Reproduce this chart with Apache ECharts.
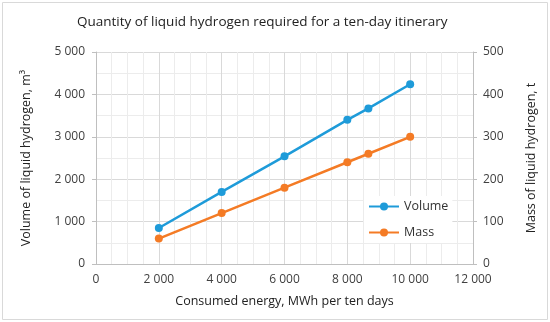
<!DOCTYPE html>
<html><head><meta charset="utf-8">
<script src="https://cdn.jsdelivr.net/npm/echarts@6/dist/echarts.min.js"></script>
<style>html,body{margin:0;padding:0;background:#fff}#c{width:550px;height:322px}</style>
</head><body><div id="c"></div>
<script>
const energy = [2000, 4000, 6000, 8000, 8670, 10000];
const volume = [850, 1700, 2540, 3400, 3670, 4240];
const mass = [60, 120, 180, 240, 260, 300];
const seriesNames = ['Volume', 'Mass'];
const FONT = 'Open Sans';
const fmt = v => String(v).replace(/\B(?=(\d{3})+(?!\d))/g, ' ');
const chart = echarts.init(document.getElementById('c'));
chart.setOption({
  animation: false,
  textStyle: {fontFamily: FONT},
  graphic: [{type: 'rect', shape: {x: 2.5, y: 2.5, width: 545, height: 317}, style: {fill: 'none', stroke: '#d9d9d9', lineWidth: 1}}],
  title: {text: 'Quantity of liquid hydrogen required for a ten-day itinerary', left: 77, top: 15, padding: 0,
    textStyle: {fontFamily: FONT, fontSize: 13.5, fontWeight: 'normal', color: '#222'}},
  grid: {left: 96, right: 77, top: 52, bottom: 58},
  legend: {orient: 'vertical', left: 364, top: 196, itemGap: 13, itemWidth: 30, itemHeight: 10,
    backgroundColor: '#fff', padding: [4, 4, 4, 4],
    textStyle: {fontFamily: FONT, fontSize: 12.5, color: '#333'}, data: seriesNames},
  xAxis: {type: 'value', min: 0, max: 12000, interval: 2000,
    name: 'Consumed energy, MWh per ten days', nameLocation: 'middle', nameGap: 31,
    nameTextStyle: {fontFamily: FONT, fontSize: 12.5, color: '#222'},
    axisLabel: {formatter: fmt, fontFamily: FONT, fontSize: 12, color: '#404040', margin: 10},
    axisLine: {lineStyle: {color: '#bfbfbf'}}, axisTick: {show: false},
    splitLine: {lineStyle: {color: '#d9d9d9'}},
    minorTick: {show: false, splitNumber: 4},
    minorSplitLine: {show: true, lineStyle: {color: '#ececec'}}},
  yAxis: [{type: 'value', min: 0, max: 5000, interval: 1000,
    name: 'Volume of liquid hydrogen, m³', nameLocation: 'middle', nameGap: 63,
    nameTextStyle: {fontFamily: FONT, fontSize: 12.5, color: '#222'},
    axisLabel: {formatter: fmt, fontFamily: FONT, fontSize: 12, color: '#404040', margin: 11},
    axisLine: {show: true, lineStyle: {color: '#bfbfbf'}}, axisTick: {show: true, length: 4, lineStyle: {color: '#bfbfbf'}},
    splitLine: {lineStyle: {color: '#d9d9d9'}},
    minorTick: {show: false, splitNumber: 2},
    minorSplitLine: {show: true, lineStyle: {color: '#ececec'}}},
   {type: 'value', min: 0, max: 500, interval: 100, position: 'right',
    name: 'Mass of liquid hydrogen, t', nameLocation: 'middle', nameGap: 52, nameRotate: 90,
    nameTextStyle: {fontFamily: FONT, fontSize: 12.5, color: '#222'},
    axisLabel: {formatter: fmt, fontFamily: FONT, fontSize: 12, color: '#404040', margin: 10},
    axisLine: {show: true, lineStyle: {color: '#bfbfbf'}}, axisTick: {show: true, length: 4, lineStyle: {color: '#bfbfbf'}},
    splitLine: {show: false}}],
  series: [
    {name: seriesNames[0], type: 'line', yAxisIndex: 0, data: energy.map((x, i) => [x, volume[i]]),
     symbol: 'circle', symbolSize: 8, color: '#1e9bd9', lineStyle: {width: 2.5}},
    {name: seriesNames[1], type: 'line', yAxisIndex: 1, data: energy.map((x, i) => [x, mass[i]]),
     symbol: 'circle', symbolSize: 8, color: '#f47b25', lineStyle: {width: 2.5}}
  ]
});
</script></body></html>
